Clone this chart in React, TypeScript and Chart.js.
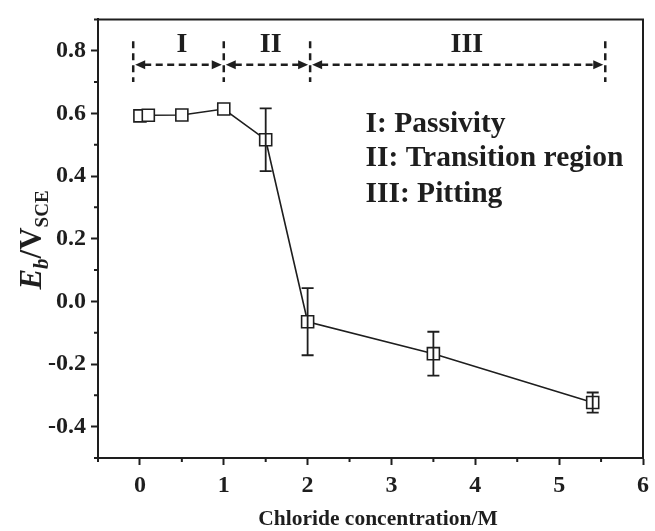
import { useEffect, useRef } from 'react';
import { Chart, registerables } from 'chart.js';

Chart.register(...registerables);

// Breakdown potential vs chloride concentration
const concentration = [0, 0.1, 0.5, 1.0, 1.5, 2.0, 3.5, 5.4];
const breakdownPotential = [0.592, 0.594, 0.595, 0.614, 0.516, -0.065, -0.167, -0.323];
const potentialError = [0, 0, 0, 0, 0.1, 0.107, 0.07, 0.032];

const xTicks = [0, 1, 2, 3, 4, 5, 6];
const yTicks = [-0.4, -0.2, 0, 0.2, 0.4, 0.6, 0.8];
const xMinorTicks = [-0.5, 0.5, 1.5, 2.5, 3.5, 4.5, 5.5];
const yMinorTicks = [-0.5, -0.3, -0.1, 0.1, 0.3, 0.5, 0.7, 0.9];

// Regime boundaries (concentration) and their labels
const regionBounds = [-0.08, 1.0, 2.03, 5.55];
const regionNames = ['I', 'II', 'III'];
const regionLabelX = [0.5, 1.56, 3.9];
const regionKey = ['I: Passivity', 'II: Transition region', 'III: Pitting'];

const INK = '#1e1e1e';
const SERIF = '"Liberation Serif", "Times New Roman", serif';

// Annotation placement, in data units
const ARROW_Y = 0.755;
const BOUND_TOP = 0.83;
const BOUND_BOTTOM = 0.70;
const REGION_NAME_Y = 0.818;
const KEY_X = 2.69;
const KEY_Y = [0.566, 0.455, 0.342];

function arrowHead(ctx: CanvasRenderingContext2D, tipX: number, y: number, dir: number) {
  const len = 10;
  const half = 4.5;
  ctx.beginPath();
  ctx.moveTo(tipX, y);
  ctx.lineTo(tipX - dir * len, y - half);
  ctx.lineTo(tipX - dir * len, y + half);
  ctx.closePath();
  ctx.fill();
}

const decorPlugin = {
  id: 'figureDecor',
  afterDatasetsDraw(chart: any) {
    const { ctx, scales } = chart;
    const x = scales.x;
    const y = scales.y;
    ctx.save();
    ctx.strokeStyle = INK;
    ctx.lineWidth = 1.8;
    concentration.forEach((c, i) => {
      const e = potentialError[i];
      if (!e) return;
      const px = x.getPixelForValue(c);
      const top = y.getPixelForValue(breakdownPotential[i] + e);
      const bot = y.getPixelForValue(breakdownPotential[i] - e);
      ctx.beginPath();
      ctx.moveTo(px, top);
      ctx.lineTo(px, bot);
      ctx.moveTo(px - 6, top);
      ctx.lineTo(px + 6, top);
      ctx.moveTo(px - 6, bot);
      ctx.lineTo(px + 6, bot);
      ctx.stroke();
    });
    ctx.restore();
  },
  afterDraw(chart: any) {
    const { ctx, chartArea, scales } = chart;
    const x = scales.x;
    const y = scales.y;
    const { left, right, top, bottom } = chartArea;
    ctx.save();

    // frame: top and right edges
    ctx.strokeStyle = INK;
    ctx.lineWidth = 2;
    ctx.beginPath();
    ctx.moveTo(left - 1, top);
    ctx.lineTo(right, top);
    ctx.lineTo(right, bottom + 1);
    ctx.stroke();

    // minor ticks
    ctx.lineWidth = 2;
    ctx.beginPath();
    xMinorTicks.forEach((v) => {
      const px = x.getPixelForValue(v);
      ctx.moveTo(px, bottom);
      ctx.lineTo(px, bottom + 4);
    });
    yMinorTicks.forEach((v) => {
      const py = y.getPixelForValue(v);
      ctx.moveTo(left, py);
      ctx.lineTo(left - 4, py);
    });
    ctx.stroke();

    // regime boundaries
    ctx.lineWidth = 2.5;
    ctx.setLineDash([7, 5]);
    ctx.beginPath();
    regionBounds.forEach((b) => {
      const px = x.getPixelForValue(b);
      ctx.moveTo(px, y.getPixelForValue(BOUND_TOP));
      ctx.lineTo(px, y.getPixelForValue(BOUND_BOTTOM));
    });
    ctx.stroke();

    // double-headed arrows between boundaries
    const ay = y.getPixelForValue(ARROW_Y);
    ctx.fillStyle = INK;
    for (let i = 0; i < regionBounds.length - 1; i++) {
      const a = x.getPixelForValue(regionBounds[i]) + 2;
      const b = x.getPixelForValue(regionBounds[i + 1]) - 2;
      ctx.setLineDash([7, 4.5]);
      ctx.beginPath();
      ctx.moveTo(a + 9, ay);
      ctx.lineTo(b - 9, ay);
      ctx.stroke();
      ctx.setLineDash([]);
      arrowHead(ctx, a, ay, -1);
      arrowHead(ctx, b, ay, 1);
    }
    ctx.setLineDash([]);

    // regime names
    ctx.font = `bold 28px ${SERIF}`;
    ctx.textAlign = 'center';
    ctx.textBaseline = 'middle';
    regionNames.forEach((n, i) => {
      ctx.fillText(n, x.getPixelForValue(regionLabelX[i]), y.getPixelForValue(REGION_NAME_Y));
    });

    // key text
    ctx.font = `bold 29.5px ${SERIF}`;
    ctx.textAlign = 'left';
    regionKey.forEach((t, i) => {
      ctx.fillText(t, x.getPixelForValue(KEY_X), y.getPixelForValue(KEY_Y[i]));
    });

    // x-axis title
    ctx.font = `bold 21.5px ${SERIF}`;
    ctx.textAlign = 'center';
    ctx.textBaseline = 'middle';
    ctx.fillText('Chloride concentration/M', 378, 519);

    // y-axis title: E_b/V_SCE, rotated
    const parts = [
      { t: 'E', f: `italic bold 31px ${SERIF}`, dy: 0 },
      { t: 'b', f: `italic bold 21px ${SERIF}`, dy: 7 },
      { t: '/V', f: `bold 31px ${SERIF}`, dy: 0 },
      { t: 'SCE', f: `bold 19px ${SERIF}`, dy: 7 },
    ];
    let total = 0;
    const widths = parts.map((p) => {
      ctx.font = p.f;
      const w = ctx.measureText(p.t).width;
      total += w;
      return w;
    });
    ctx.translate(31, 240);
    ctx.rotate(-Math.PI / 2);
    ctx.textAlign = 'left';
    ctx.textBaseline = 'alphabetic';
    let cx = -total / 2;
    parts.forEach((p, i) => {
      ctx.font = p.f;
      ctx.fillText(p.t, cx, 10 + p.dy);
      cx += widths[i];
    });

    ctx.restore();
  },
};

export default function App() {
  const canvasRef = useRef<HTMLCanvasElement | null>(null);

  useEffect(() => {
    const canvas = canvasRef.current;
    if (!canvas) return;
    const tickFont = { family: SERIF, size: 24, weight: 'bold' as const };
    const chart = new Chart(canvas, {
      type: 'line',
      data: {
        datasets: [
          {
            data: concentration.map((c, i) => ({ x: c, y: breakdownPotential[i] })),
            borderColor: INK,
            borderWidth: 1.6,
            tension: 0,
            pointStyle: 'rect',
            pointRadius: 8.5,
            pointBorderWidth: 1.6,
            pointBorderColor: INK,
            pointBackgroundColor: '#ffffff',
          },
        ],
      },
      options: {
        responsive: false,
        animation: false,
        layout: { padding: { top: 14, right: 10, left: 0, bottom: 0 } },
        plugins: { legend: { display: false }, tooltip: { enabled: false } },
        scales: {
          x: {
            type: 'linear',
            min: -0.5,
            max: 6,
            afterBuildTicks: (s: any) => {
              s.ticks = xTicks.map((v) => ({ value: v }));
            },
            afterFit: (s: any) => {
              s.height = 73;
            },
            ticks: {
              font: tickFont,
              color: INK,
              padding: 6,
              maxRotation: 0,
              callback: (v: any) => String(v),
            },
            grid: {
              drawOnChartArea: false,
              drawTicks: true,
              tickLength: 7,
              tickWidth: 2,
              tickColor: INK,
            },
            border: { display: true, width: 2, color: INK },
          },
          y: {
            type: 'linear',
            min: -0.5,
            max: 0.9,
            afterBuildTicks: (s: any) => {
              s.ticks = yTicks.map((v) => ({ value: v }));
            },
            afterFit: (s: any) => {
              s.width = 98;
            },
            ticks: {
              font: tickFont,
              color: INK,
              padding: 5,
              callback: (v: any) => Number(v).toFixed(1),
            },
            grid: {
              drawOnChartArea: false,
              drawTicks: true,
              tickLength: 7,
              tickWidth: 2,
              tickColor: INK,
            },
            border: { display: true, width: 2, color: INK },
          },
        },
      },
      plugins: [decorPlugin],
    });
    return () => chart.destroy();
  }, []);

  return (
    <div style={{ position: 'absolute', left: 0, top: 0, width: 655, height: 531, background: '#fff' }}>
      <canvas ref={canvasRef} width={655} height={531} />
    </div>
  );
}
